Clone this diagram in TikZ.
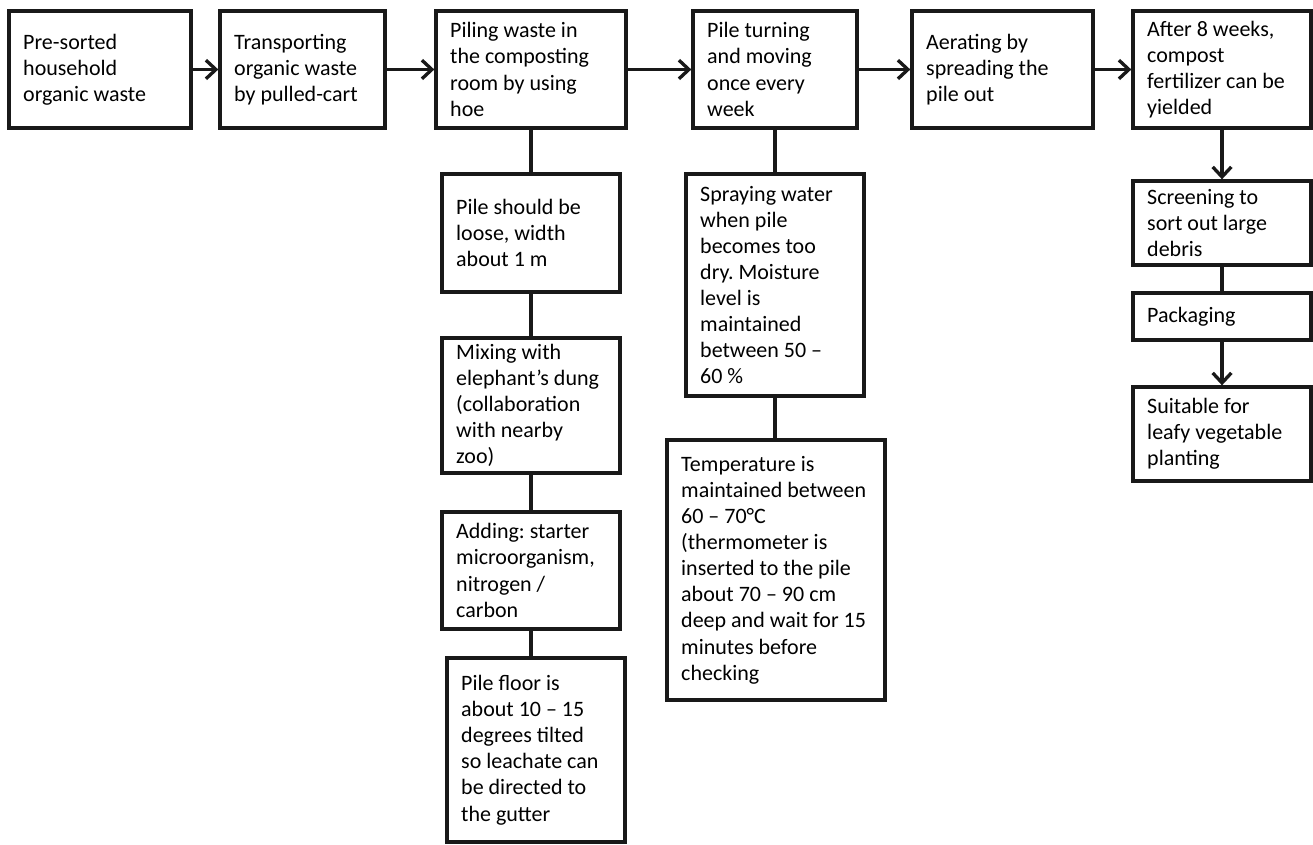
\documentclass[tikz,border=0pt]{standalone}
\usepackage{fontspec}
\setmainfont{Carlito}
\usetikzlibrary{arrows.meta}
\frenchspacing
\begin{document}
\begin{tikzpicture}[x=0.75pt,y=-0.75pt,
  box/.style 2 args={draw=black!90, line width=2.5pt, rectangle, inner sep=0pt,
    minimum width=#1*0.75pt, minimum height=#2*0.75pt},
  txt/.style={anchor=west, align=left, inner sep=0pt, xshift=11.7pt,
    font=\fontsize{16.5pt}{19.6pt}\selectfont\frenchspacing},
  conn/.style={line width=2.5pt, draw=black!90},
  arr/.style={conn, -{Straight Barb[length=7.5pt,width=14pt]}}]
\useasboundingbox (0,0) rectangle (1313,845);
% top row
\node[box={182}{117}] (b1) at (100,69.5) {};
\node[box={165}{117}] (b2) at (302.5,69.5) {};
\node[box={190}{117}] (b3) at (531,69.5) {};
\node[box={164}{117}] (b4) at (775,69.5) {};
\node[box={181}{117}] (b5) at (1002.5,69.5) {};
\node[box={178}{117}] (b6) at (1222,69.5) {};
% column under b3
\node[box={178}{118}] (c1) at (531,233) {};
\node[box={178}{135}] (c2) at (531,405.5) {};
\node[box={178}{117}] (c3) at (531,570.5) {};
\node[box={178}{184}] (c4) at (536,750) {};
% column under b4
\node[box={178}{222}] (d1) at (775,285) {};
\node[box={218}{260}] (d2) at (776,570) {};
% column under b6
\node[box={178}{84}] (e1) at (1222,223) {};
\node[box={178}{47}] (e2) at (1222,316.5) {};
\node[box={178}{94}] (e3) at (1222,434) {};
% texts
\node[txt] (t1) at (b1.west) {Pre-sorted\\household\\organic waste};
\node[txt] (t2) at (b2.west) {Transporting\\organic waste\\by pulled-cart};
\node[txt] (t3) at (b3.west) {Piling waste in\\the composting\\room by using\\hoe};
\node[txt] (t4) at (b4.west) {Pile turning\\and moving\\once every\\week};
\node[txt] (t5) at (b5.west) {Aerating by\\spreading the\\pile out};
\node[txt] (t6) at (b6.west) {After 8 weeks,\\compost\\fertilizer can be\\yielded};
\node[txt] (tc1) at (c1.west) {Pile should be\\loose, width\\about 1 m};
\node[txt] (tc2) at (c2.west) {Mixing with\\elephant’s dung\\(collaboration\\with nearby\\zoo)};
\node[txt] (tc3) at (c3.west) {Adding: starter\\microorganism,\\nitrogen /\\carbon};
\node[txt] (tc4) at (c4.west) {Pile floor is\\about 10 – 15\\degrees tilted\\so leachate can\\be directed to\\the gutter};
\node[txt] (td1) at (d1.west) {Spraying water\\when pile\\becomes too\\dry. Moisture\\level is\\maintained\\between 50 –\\60 \%};
\node[txt] (td2) at (d2.west) {Temperature is\\maintained between\\60 – 70°C\\(thermometer is\\inserted to the pile\\about 70 – 90 cm\\deep and wait for 15\\minutes before\\checking};
\node[txt] (te1) at (e1.west) {Screening to\\sort out large\\debris};
\node[txt] (te2) at (e2.west) {Packaging};
\node[txt] (te3) at (e3.west) {Suitable for\\leafy vegetable\\planting};
% connectors
\draw[arr] (b1) -- (b2);
\draw[arr] (b2) -- (b3);
\draw[arr] (b3) -- (b4);
\draw[arr] (b4) -- (b5);
\draw[arr] (b5) -- (b6);
\draw[conn] (b3) -- (c1);
\draw[conn] (c1) -- (c2);
\draw[conn] (c2) -- (c3);
\draw[conn] (c3.south) -- (c3.south |- c4.north);
\draw[conn] (b4) -- (d1);
\draw[conn] (d1.south) -- (d1.south |- d2.north);
\draw[arr] (b6) -- (e1);
\draw[conn] (e1) -- (e2);
\draw[arr] (e2) -- (e3);
\end{tikzpicture}
\end{document}
